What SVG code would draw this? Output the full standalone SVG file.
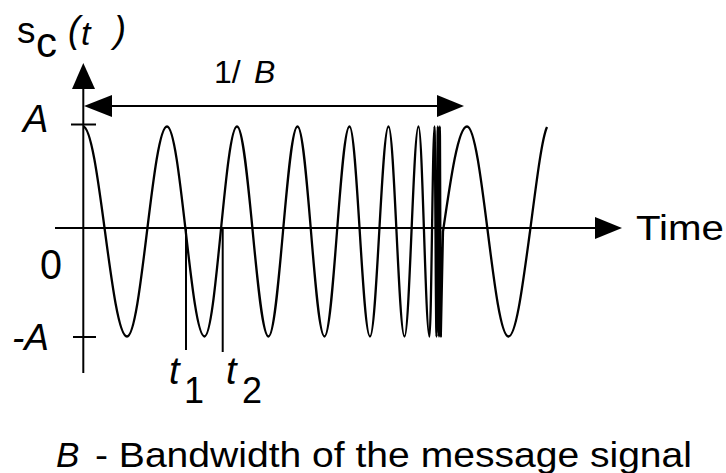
<svg xmlns="http://www.w3.org/2000/svg" width="726" height="473" viewBox="0 0 726 473">
<style>
.ax{stroke:#000;stroke-width:2;fill:none}
.wave{stroke:#000;stroke-width:2.3;fill:none;stroke-linejoin:round}
.ah{fill:#000;stroke:none}
text{font-family:"Liberation Sans",Arial,sans-serif;fill:#000}
.it{font-style:italic}
</style>
<rect width="726" height="473" fill="#fff"/>
<g id="axes">
<line class="ax" x1="83.3" y1="85" x2="83.3" y2="373"/>
<polygon class="ah" points="83.3,63 72,89 95,89"/>
<line class="ax" x1="55" y1="228" x2="598" y2="228"/>
<polygon class="ah" points="622,228 595,217 595,239"/>
<line class="ax" x1="71" y1="124.5" x2="96" y2="124.5"/>
<line class="ax" x1="73" y1="337" x2="96" y2="337"/>
</g>
<g id="period">
<line class="ax" x1="108" y1="106" x2="440" y2="106"/>
<polygon class="ah" points="84,106 112,95 112,117"/>
<polygon class="ah" points="464,106 437,95 437,117"/>
</g>
<g id="markers">
<line class="ax" x1="186" y1="228" x2="186" y2="350"/>
<line class="ax" x1="222.7" y1="228" x2="222.7" y2="352"/>
</g>
<g id="waveform">
<path class="wave" d="M83,126.5 C99,126.5 111,336.5 127,336.5 C141.5,336.5 152.5,126.5 167,126.5 C180.6,126.5 190.9,336.5 204.5,336.5 C216.3,336.5 225.2,126.5 237,126.5 C248.4,126.5 257,336.5 268.5,336.5 C279,336.5 287,126.5 297.5,126.5 C307.3,126.5 314.7,336.5 324.5,336.5 C333.6,336.5 340.4,126.5 349.5,126.5 C357,126.5 362.5,336.5 370,336.5 C376.7,336.5 381.8,126.5 388.5,126.5 C394.3,126.5 398.7,336.5 404.5,336.5 C409.6,336.5 413.4,126.5 418.5,126.5 C422.5,126.5 425.5,336.5 429.5,336.5 C431.3,336.5 432.7,126.5 434.5,126.5 C435.2,126.5 435.8,336.5 436.5,336.5 C437,336.5 437.3,126.5 437.8,126.5 C438.2,126.5 438.6,336.5 439,336.5 C439.3,336.5 439.5,126.5 439.8,126.5 C440.2,126.5 440.4,336.5 440.8,336.5 L443,231.5 C450.8,177.7 458.3,126.5 467,126.5 C482.1,126.5 493.4,336.5 508.5,336.5 C516.3,336.5 523,282.7 530,231.5 C537,177.7 542,138 547,127"/>
</g>
<g id="labels">
<text x="17" y="43" font-size="37">s<tspan x="36" y="57" font-size="42">c</tspan><tspan class="it" x="68" y="42" font-size="36">(</tspan><tspan class="it" x="81" y="45" font-size="34">t</tspan><tspan class="it" x="114" y="42" font-size="36">)</tspan></text>
<text x="214" y="83" font-size="32">1/</text>
<text class="it" x="254" y="83" font-size="32">B</text>
<text class="it" x="23" y="132" font-size="38">A</text>
<text x="40" y="279" font-size="42" textLength="22" lengthAdjust="spacingAndGlyphs">0</text>
<text class="it" x="12" y="350" font-size="37">-A</text>
<text class="it" x="169" y="384" font-size="38">t</text>
<text x="184" y="403" font-size="36">1</text>
<text class="it" x="226" y="384" font-size="38">t</text>
<text x="242" y="403" font-size="36">2</text>
<text x="636" y="240" font-size="35" textLength="88" lengthAdjust="spacingAndGlyphs">Time</text>
<text class="it" x="56" y="467" font-size="35">B</text>
<text x="95" y="467" font-size="35" textLength="597" lengthAdjust="spacingAndGlyphs">- Bandwidth of the message signal</text>
</g>
</svg>
